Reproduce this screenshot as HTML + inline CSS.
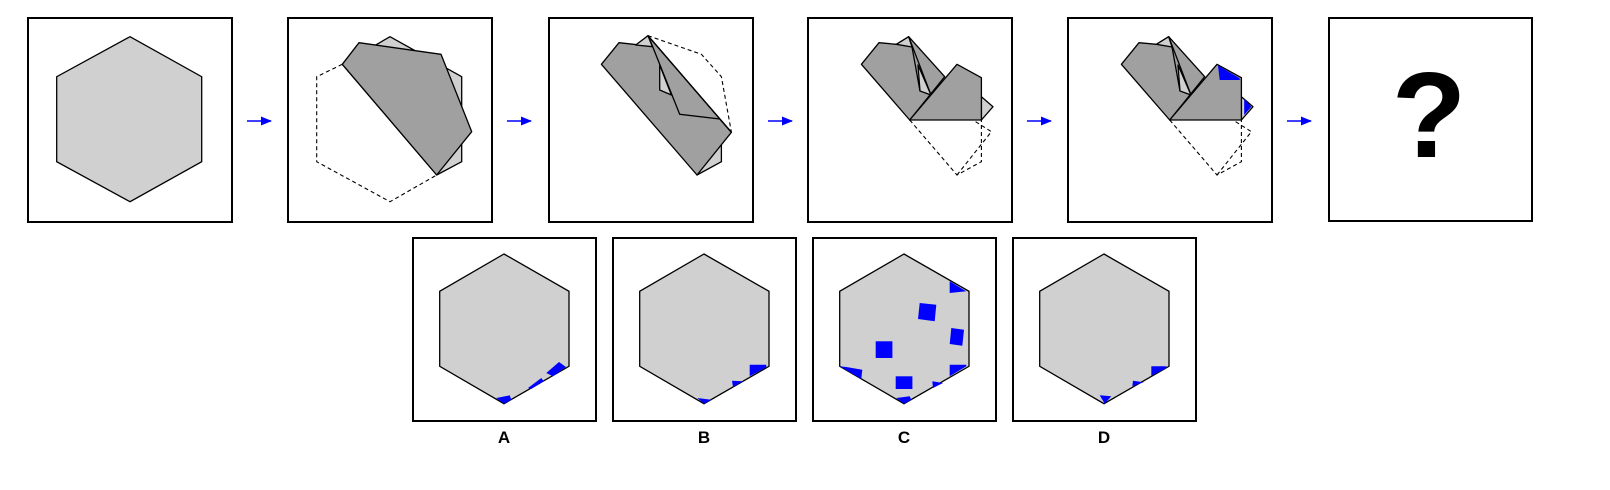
<!DOCTYPE html>
<html><head><meta charset="utf-8"><style>
html,body{margin:0;padding:0;background:#fff;width:1610px;height:490px;overflow:hidden}
svg{display:block}
.fr{fill:#fff;stroke:#000;stroke-width:2}
.hex{fill:#d0d0d0;stroke:#000;stroke-width:1.3}
.dk{fill:#a0a0a0;stroke:#000;stroke-width:1.3;stroke-linejoin:round}
.lt{fill:#d0d0d0;stroke:#000;stroke-width:1.3;stroke-linejoin:round}
.ds{fill:none;stroke:#000;stroke-width:1.1;stroke-dasharray:4,3}
.ln{fill:none;stroke:#000;stroke-width:1.3}
.bl{fill:#0000ff}
.lab{font-family:"Liberation Sans",sans-serif;font-weight:bold;font-size:17px}
</style></head><body>
<svg width="1610" height="490" viewBox="0 0 1610 490">
<defs>
<marker id="ah" markerUnits="userSpaceOnUse" markerWidth="11" markerHeight="9" refX="10" refY="4.5" orient="auto"><path d="M0,0 L11,4.5 L0,9 Z" fill="#0000ff"/></marker>
</defs>
<g transform="translate(28,18)">
<rect class="fr" x="0" y="0" width="204" height="204"/>
<polygon class="hex" points="102,18.7 173.7,58.7 173.7,143.7 102,183.7 28.7,143.7 28.7,58.7"/>
</g>
<g transform="translate(288,18)">
<rect class="fr" x="0" y="0" width="204" height="204"/>
<polygon class="lt" points="54.3,46.3 102,18.7 173.7,58.7 173.7,143.7 148.7,157"/>
<polyline class="ds" points="54.3,46.3 28.7,58.7 28.7,143.7 102,183.7 148.7,157"/>
<polygon class="dk" points="54.3,46.3 71,24.7 153,36.3 183.7,113.7 148.7,157"/>
</g>
<g transform="translate(549,18)">
<rect class="fr" x="0" y="0" width="204" height="204"/>
<polygon class="lt" points="148,157 172.4,143.7 172.4,127 167.4,117"/>
<polygon class="dk" points="52.4,46.3 70,24.7 90.7,27 99,17.7 182.4,114.3 148,157"/>
<polygon class="lt" points="86.7,27 99,17.7 103.4,28.7"/>
<polygon class="lt" points="110.7,47 110.7,72 122.4,77"/>
<polyline class="ln" points="101,22 130.7,96.3 170.7,101 182.4,114.3"/>
<polyline class="ln" points="99,17.7 182.4,114.3"/>
<polyline class="ds" points="99,17.7 152.4,36.3 172.4,58.7 182.4,114.3"/>
<polyline class="ds" points="99,17.7 172.4,103"/>
</g>
<g transform="translate(808,18)">
<rect class="fr" x="0" y="0" width="204" height="204"/>
<polyline class="ds" points="101.7,102 149,157 173.4,143.7 173.4,102"/>
<polyline class="ds" points="149,157 183.4,113.7 165,102"/>
<polygon class="lt" points="173.4,78.7 185,88.7 173.4,102"/>
<polygon class="dk" points="53.4,46.3 71,24.7 88.4,26.3 100.7,18.7 136.7,58.7 101.7,102"/>
<polygon class="lt" points="88.4,26.3 100.7,18.7 104,29"/>
<polygon class="lt" points="110,47 112,73 123,77"/>
<polyline class="ln" points="100.7,18.7 123,77"/>
<polyline class="ln" points="104,29 112,73"/>
<polygon class="dk" points="101.7,102 149,46.3 173.4,59.7 173.4,102"/>
</g>
<g transform="translate(1068,18)">
<rect class="fr" x="0" y="0" width="204" height="204"/>
<polyline class="ds" points="101.7,102 149,157 173.4,143.7 173.4,102"/>
<polyline class="ds" points="149,157 183.4,113.7 165,102"/>
<polygon class="lt" points="173.4,78.7 185,88.7 173.4,102"/>
<polygon class="bl" points="176.2,81 183.4,88.7 176.2,97"/>
<polygon class="dk" points="53.4,46.3 71,24.7 88.4,26.3 100.7,18.7 136.7,58.7 101.7,102"/>
<polygon class="lt" points="88.4,26.3 100.7,18.7 104,29"/>
<polygon class="lt" points="110,47 112,73 123,77"/>
<polyline class="ln" points="100.7,18.7 123,77"/>
<polyline class="ln" points="104,29 112,73"/>
<polygon class="dk" points="101.7,102 149,46.3 173.4,59.7 173.4,102"/>
<polygon class="bl" points="150,47.5 171.7,60.3 171.7,62 151.7,62"/>
</g>
<g transform="translate(1329,18)">
<rect class="fr" x="0" y="0" width="203" height="203"/>
<text x="100" y="139" text-anchor="middle" font-family="Liberation Sans,sans-serif" font-weight="bold" font-size="122">?</text>
</g>
<g>
<line x1="247" y1="121" x2="271" y2="121" stroke="#0000ff" stroke-width="1.5" marker-end="url(#ah)"/>
<line x1="507" y1="121" x2="531" y2="121" stroke="#0000ff" stroke-width="1.5" marker-end="url(#ah)"/>
<line x1="768" y1="121" x2="792" y2="121" stroke="#0000ff" stroke-width="1.5" marker-end="url(#ah)"/>
<line x1="1027" y1="121" x2="1051" y2="121" stroke="#0000ff" stroke-width="1.5" marker-end="url(#ah)"/>
<line x1="1287" y1="121" x2="1311" y2="121" stroke="#0000ff" stroke-width="1.5" marker-end="url(#ah)"/>
</g>
<g transform="translate(413,238)">
<rect class="fr" x="0" y="0" width="183" height="183"/>
<polygon class="hex" points="91,16 156,53.3 156,128.3 91,165.7 26.7,128.3 26.7,53.3"/>
<polygon class="bl" points="83.3,160 96.7,157.3 98.3,161.7 91,165.7"/>
<polygon class="bl" points="115,150 128.3,140 130.7,143.3 118.3,151"/>
<polygon class="bl" points="133.3,135 146,124 153,129 140,138.3"/>
<text class="lab" x="91" y="205" text-anchor="middle">A</text>
</g>
<g transform="translate(613,238)">
<rect class="fr" x="0" y="0" width="183" height="183"/>
<polygon class="hex" points="91,16 156,53.3 156,128.3 91,165.7 26.7,128.3 26.7,53.3"/>
<polygon class="bl" points="84.3,160 98.3,161.7 91,165.7"/>
<polygon class="bl" points="119,142.7 130,143.3 120,149"/>
<polygon class="bl" points="136.7,126.7 153.3,126.7 153.3,129.3 136.7,138.3"/>
<text class="lab" x="91" y="205" text-anchor="middle">B</text>
</g>
<g transform="translate(813,238)">
<rect class="fr" x="0" y="0" width="183" height="183"/>
<polygon class="hex" points="91,16 156,53.3 156,128.3 91,165.7 26.7,128.3 26.7,53.3"/>
<polygon class="bl" points="136.7,43.3 153.3,53.3 136.7,55"/>
<polygon class="bl" points="106.7,65 123.3,66.7 121.7,83.3 105,81"/>
<polygon class="bl" points="138.3,90 151,91.7 149.3,107.7 136.7,106"/>
<rect class="bl" x="62.7" y="103.3" width="16.7" height="16.7"/>
<polygon class="bl" points="136.7,126.7 153.3,126.7 153.3,128.3 136.7,138.3"/>
<polygon class="bl" points="26.7,128.3 33.3,129 49.3,131.7 48.3,141"/>
<rect class="bl" x="82.7" y="138.3" width="16.7" height="12.7"/>
<polygon class="bl" points="83.3,160 96.7,158.3 98.3,161.7 91,165.7"/>
<polygon class="bl" points="119.3,143.3 130,145 120,150"/>
<text class="lab" x="91" y="205" text-anchor="middle">C</text>
</g>
<g transform="translate(1013,238)">
<rect class="fr" x="0" y="0" width="183" height="183"/>
<polygon class="hex" points="91,16 156,53.3 156,128.3 91,165.7 26.7,128.3 26.7,53.3"/>
<polygon class="bl" points="86.7,157.3 98.3,158.3 91.7,165.7"/>
<polygon class="bl" points="120,142.7 130.7,144.3 119.3,148.3"/>
<polygon class="bl" points="138.3,128.3 153.3,128.3 153.3,130 138.3,137.7"/>
<text class="lab" x="91" y="205" text-anchor="middle">D</text>
</g>
</svg>
</body></html>
